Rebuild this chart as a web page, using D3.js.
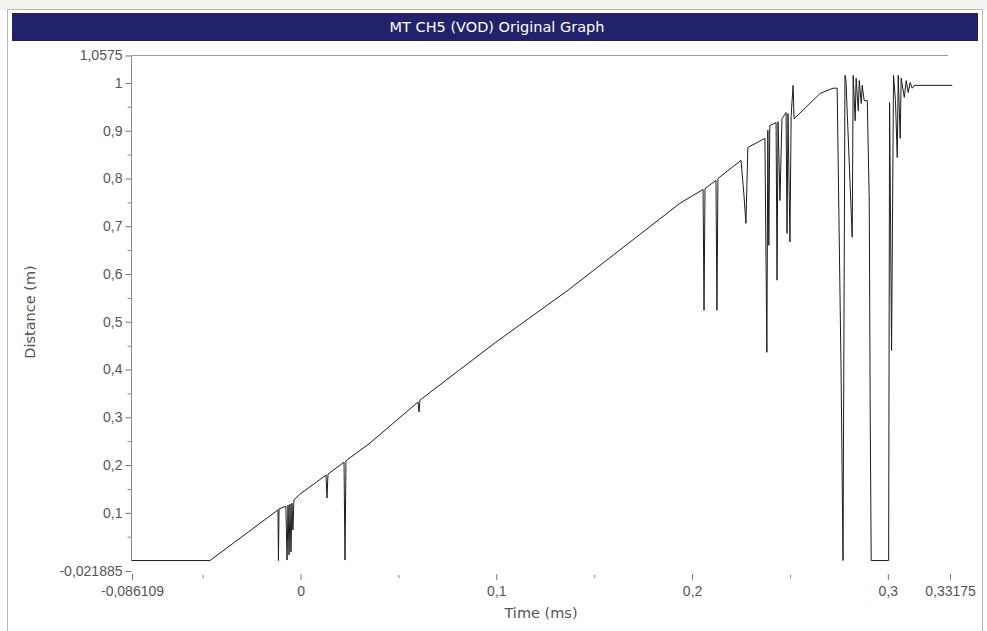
<!DOCTYPE html>
<html>
<head>
<meta charset="utf-8">
<script src="https://cdn.jsdelivr.net/npm/d3@7"></script>
<style>
  body { margin: 0; background: #fff; }
  svg { display: block; font-family: "DejaVu Sans", Verdana, sans-serif; }
</style>
</head>
<body>
<svg id="chart" width="987" height="631" viewBox="0 0 987 631"></svg>
<script>
// trace pieces, [time (ms), distance (m)]
const flatStart = [[-0.086109, 0], [-0.0463, 0]];

const earlySpikes = [
  [-0.01155, 0.106], [-0.0113, 0], [-0.0110, 0.108],
  [-0.0075, 0.114], [-0.0069, 0.001], [-0.0064, 0.116],
  [-0.0059, 0.012], [-0.0054, 0.118], [-0.0049, 0.018],
  [-0.0044, 0.120], [-0.0039, 0.064], [-0.0034, 0.127],
  [-0.0003, 0.139],
  [0.0130, 0.179], [0.0135, 0.131], [0.0140, 0.181],
  [0.0222, 0.206], [0.0227, 0.001], [0.0232, 0.209],
  [0.0355, 0.246]
];

const midRamp = [
  [0.0600, 0.332], [0.0605, 0.311], [0.0610, 0.336],
  [0.0997, 0.457], [0.1366, 0.566], [0.1938, 0.748]
];

const lateSpikes = [
  [0.2056, 0.777], [0.2061, 0.524], [0.2066, 0.779],
  [0.2122, 0.796], [0.2127, 0.524], [0.2132, 0.800],
  [0.2250, 0.838], [0.2265, 0.765], [0.2275, 0.706], [0.2285, 0.865],
  [0.2372, 0.884], [0.2382, 0.436], [0.2387, 0.901], [0.2392, 0.660],
  [0.2397, 0.911], [0.2429, 0.917], [0.2434, 0.587], [0.2439, 0.919],
  [0.2449, 0.754], [0.2459, 0.925], [0.2480, 0.938], [0.2485, 0.685],
  [0.2490, 0.936], [0.2500, 0.667], [0.2506, 0.932], [0.2516, 0.995],
  [0.2521, 0.925],
  [0.2654, 0.978], [0.2720, 0.989], [0.2741, 0.989]
];

const breakUp = [
  [0.2761, 0.399], [0.2771, 0], [0.2781, 1.016],
  [0.2786, 1.005], [0.2818, 0.677], [0.2823, 1.016],
  [0.2833, 0.921], [0.2838, 1.010], [0.2849, 0.942], [0.2854, 1.005],
  [0.2864, 0.957], [0.2869, 0.995], [0.2879, 0.963], [0.2895, 0.963],
  [0.2905, 0.754], [0.2910, 0.300], [0.2915, 0],
  [0.3004, 0], [0.3009, 0.959], [0.3019, 0.440], [0.3029, 1.016],
  [0.3039, 0.963], [0.3048, 0.844], [0.3053, 1.016], [0.3063, 0.884],
  [0.3068, 1.010], [0.3084, 0.970], [0.3094, 1.005], [0.3104, 0.980],
  [0.3114, 1.001], [0.3125, 0.989], [0.3135, 0.995], [0.3329, 0.995]
];

const trace = [].concat(flatStart, earlySpikes, midRamp, lateSpikes, breakUp);

const xMajorTicks = [-0.086109, 0, 0.1, 0.2, 0.3, 0.33175];
const xMinorTicks = [-0.05, 0.05, 0.15, 0.25];
const yMajorTicks = [-0.021885, 0.1, 0.2, 0.3, 0.4, 0.5, 0.6, 0.7, 0.8, 0.9, 1, 1.0575];
const yMinorTicks = [0.05, 0.15, 0.25, 0.35, 0.45, 0.55, 0.65, 0.75, 0.85, 0.95];

const titleText = "MT CH5 (VOD) Original Graph";
const xTitle = "Time (ms)";
const yTitle = "Distance (m)";

const svg = d3.select("#chart");
const W = 987, H = 631;

const x = d3.scaleLinear().domain([-0.086109, 0.33175]).range([132, 950]);
const y = d3.scaleLinear().domain([-0.021885, 1.0575]).range([571, 55.5]);

const fmt = d => String(d).replace(".", ",");

// window frame
svg.append("rect").attr("x", 0).attr("y", 0).attr("width", W).attr("height", 10)
  .attr("fill", "#f2f2ee");
svg.append("rect").attr("x", 7.5).attr("y", 9.5).attr("width", 975).attr("height", 630)
  .attr("fill", "#fff").attr("stroke", "#b8b8b8");

// title bar
svg.append("rect").attr("x", 12).attr("y", 13).attr("width", 966).attr("height", 28)
  .attr("fill", "#22226a");
svg.append("text").attr("x", 497).attr("y", 32)
  .attr("text-anchor", "middle").attr("fill", "#fff").attr("font-size", 14.5)
  .text(titleText);

// top border line of plot
svg.append("line")
  .attr("x1", x.range()[0]).attr("x2", 948)
  .attr("y1", y(1.0575)).attr("y2", y(1.0575))
  .attr("stroke", "#9a9a9a");

// y axis
const yAxis = svg.append("g").attr("transform", "translate(131.5,0)")
  .call(d3.axisLeft(y).tickValues(yMajorTicks).tickFormat(fmt).tickSize(6).tickPadding(3));
yAxis.select(".domain").remove();
yAxis.selectAll("line").attr("stroke", "#777");
yAxis.selectAll("text").attr("fill", "#555").attr("font-size", 14);
svg.append("g").attr("transform", "translate(131.5,0)")
  .call(d3.axisLeft(y).tickValues(yMinorTicks).tickFormat("").tickSize(4))
  .call(g => g.select(".domain").remove())
  .selectAll("line").attr("stroke", "#888");
svg.append("line")
  .attr("x1", 131.5).attr("x2", 131.5)
  .attr("y1", y(1.0575)).attr("y2", y(0) + 1)
  .attr("stroke", "#888");

// x axis (ticks only, floating under the plot)
const xAxis = svg.append("g").attr("transform", "translate(0,574)")
  .call(d3.axisBottom(x).tickValues(xMajorTicks).tickFormat(fmt).tickSize(6).tickPadding(6));
xAxis.select(".domain").remove();
xAxis.selectAll("line").attr("stroke", "#777");
xAxis.selectAll("text").attr("fill", "#555").attr("font-size", 14);
svg.append("g").attr("transform", "translate(0,575)")
  .call(d3.axisBottom(x).tickValues(xMinorTicks).tickFormat("").tickSize(3))
  .call(g => g.select(".domain").remove())
  .selectAll("line").attr("stroke", "#888");

// axis titles
svg.append("text").attr("x", 541).attr("y", 618)
  .attr("text-anchor", "middle").attr("fill", "#555").attr("font-size", 14.5)
  .text(xTitle);
svg.append("text")
  .attr("transform", "translate(35,312) rotate(-90)")
  .attr("text-anchor", "middle").attr("fill", "#555").attr("font-size", 14.5)
  .text(yTitle);

// the trace
const line = d3.line().x(d => x(d[0])).y(d => y(d[1]));
svg.append("path")
  .datum(trace)
  .attr("d", line)
  .attr("fill", "none")
  .attr("stroke", "#1c1c1c")
  .attr("stroke-width", 1);
</script>
</body>
</html>
